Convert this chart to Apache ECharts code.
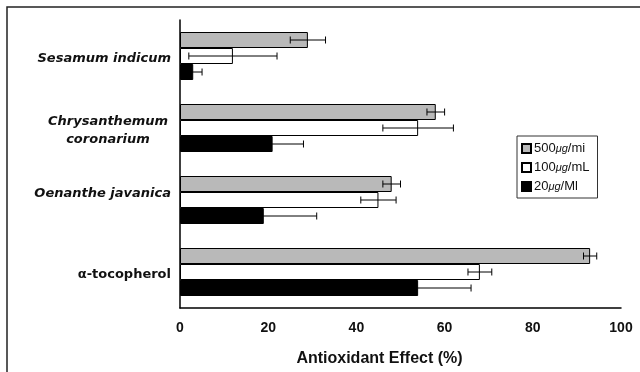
<!DOCTYPE html>
<html><head><meta charset="utf-8">
<script src="https://cdn.jsdelivr.net/npm/echarts@6/dist/echarts.min.js"></script>
<style>html,body{margin:0;padding:0;background:#fff}#c{width:640px;height:372px}</style>
</head><body><div id="c"></div>
<script>
var categories = ['Sesamum indicum', 'Chrysanthemum\ncoronarium', 'Oenanthe javanica', 'α-tocopherol'];
var seriesNames = ['500μg/mi', '100μg/mL', '20μg/Ml'];
var v500 = [29, 58, 48, 93];
var v100 = [12, 54, 45, 68];
var v20 = [3, 21, 19, 54];
var e500 = [4, 2, 2, 1.5];
var e100 = [10, 8, 4, 2.7];
var e20 = [2, 7, 12, 12];
var xTicks = [0, 20, 40, 60, 80, 100];

var values = [v500, v100, v20];
var errs = [e500, e100, e20];
var fills = ['#b9b9b9', '#ffffff', '#000000'];

var chart = echarts.init(document.getElementById('c'));
var series = [];
values.forEach(function (vals, s) {
  series.push({
    name: seriesNames[s], type: 'bar', data: vals, barWidth: 16, barGap: '0%',
    itemStyle: { color: fills[s], borderColor: '#000', borderWidth: 1 },
    z: 2
  });
});
values.forEach(function (vals, s) {
  var d = vals.map(function (v, i) { return [i, v - errs[s][i], v + errs[s][i]]; });
  series.push({
    type: 'custom', data: d, z: 5, silent: true,
    encode: { x: [1, 2], y: 0 },
    renderItem: function (params, api) {
      var ci = api.value(0);
      var lo = api.coord([api.value(1), ci]);
      var hi = api.coord([api.value(2), ci]);
      var y = lo[1] + (s - 1) * 16;
      var h = 3.5;
      var st = { stroke: '#000', lineWidth: 1 };
      return { type: 'group', children: [
        { type: 'line', shape: { x1: lo[0], y1: y, x2: hi[0], y2: y }, style: st },
        { type: 'line', shape: { x1: lo[0], y1: y - h, x2: lo[0], y2: y + h }, style: st },
        { type: 'line', shape: { x1: hi[0], y1: y - h, x2: hi[0], y2: y + h }, style: st }
      ] };
    }
  });
});

var lab = { fontStyle: 'italic', fontFamily: 'DejaVu Sans', fontSize: 13, fontWeight: 'bold', color: '#111' };
function ext(o) { var r = {}; for (var k in lab) r[k] = lab[k]; for (var k2 in o) r[k2] = o[k2]; return r; }

chart.setOption({
  animation: false,
  grid: { left: 180, right: 19, top: 20, bottom: 64 },
  legend: {
    orient: 'vertical', left: 517, top: 136, width: 81,
    data: seriesNames, itemWidth: 9, itemHeight: 9, itemGap: 6,
    icon: 'rect', borderColor: '#333', borderWidth: 1, padding: [6, 8, 5, 4],
    textStyle: { fontFamily: 'Liberation Sans', fontSize: 13, color: '#111', padding: [0, 0, 0, -2],
      rich: {
        t: { fontFamily: 'Liberation Sans', fontSize: 13, color: '#111' },
        u: { fontFamily: 'Liberation Sans', fontSize: 11, fontStyle: 'italic', color: '#111' }
      } },
    formatter: function (n) {
      var p = n.split('μg');
      return '{t|' + p[0] + '}{u|μg}{t|' + p[1] + '}';
    }
  },
  xAxis: {
    type: 'value', min: 0, max: 100, interval: 20,
    axisLine: { show: true, lineStyle: { color: '#000', width: 1.5 } },
    axisTick: { show: false }, splitLine: { show: false },
    axisLabel: { margin: 13, fontFamily: 'Liberation Sans', fontWeight: 'bold', fontSize: 14, color: '#111',
      formatter: function (v) { return xTicks.indexOf(v) >= 0 ? String(v) : ''; } },
    name: 'Antioxidant Effect (%)', nameLocation: 'middle', nameGap: 43,
    nameTextStyle: { fontFamily: 'Liberation Sans', fontWeight: 'bold', fontSize: 16, color: '#111', padding: [0, 42, 0, 0] }
  },
  yAxis: {
    type: 'category', data: categories, inverse: true,
    axisLine: { show: true, lineStyle: { color: '#000', width: 1.5 } },
    axisTick: { show: false },
    axisLabel: {
      margin: 9, color: '#111', fontFamily: 'DejaVu Sans', fontSize: 13, fontWeight: 'bold',
      formatter: function (v) {
        if (v.indexOf('\n') >= 0) {
          var p = v.split('\n');
          return '{sp| }\n{c|' + p[0] + '}\n{c|' + p[1] + '}';
        }
        if (v.charAt(0) === 'α') return '{n|' + v + '}';
        if (v.charAt(0) === 'O') return '{o|' + v + '}';
        return '{s|' + v + '}';
      },
      rich: {
        s: ext({ padding: [6, 0, 0, 0] }),
        o: ext({ padding: [0, 0, 12, 0] }),
        sp: { fontSize: 4, lineHeight: 6, height: 6 },
        c: ext({ width: 126, align: 'center', height: 18, lineHeight: 18 }),
        n: ext({ fontStyle: 'normal', padding: [6, 0, 0, 0] })
      }
    }
  },
  graphic: [{
    type: 'polyline', silent: true,
    shape: { points: [[7, 372], [7, 7], [640, 7]] },
    style: { stroke: '#222', lineWidth: 1.5, fill: null }
  }],
  series: series
});
</script></body></html>
